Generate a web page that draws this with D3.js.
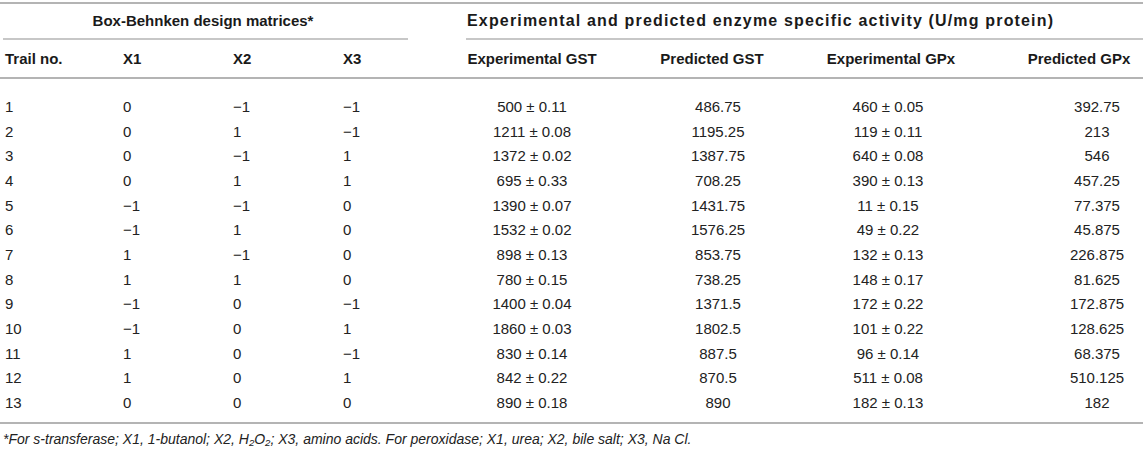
<!DOCTYPE html>
<html>
<head>
<meta charset="utf-8">
<script src="https://cdn.jsdelivr.net/npm/d3@7"></script>
<style>
  body { margin: 0; background: #fff; }
  svg { display: block; font-family: "Liberation Sans", Arial, sans-serif; }
  .rule { stroke: #b4b4b4; }
  .head { font-weight: bold; font-size: 15px; fill: #1a1a1a; }
  .cell { font-size: 15px; fill: #222; }
  .note { font-size: 14px; font-style: italic; fill: #222; }
</style>
</head>
<body>
<svg id="table"></svg>
<script>
// table values
var trial = [1, 2, 3, 4, 5, 6, 7, 8, 9, 10, 11, 12, 13];
var x1 = [0, 0, 0, 0, -1, -1, 1, 1, -1, -1, 1, 1, 0];
var x2 = [-1, 1, -1, 1, -1, 1, -1, 1, 0, 0, 0, 0, 0];
var x3 = [-1, -1, 1, 1, 0, 0, 0, 0, -1, 1, -1, 1, 0];
var expGST = [500, 1211, 1372, 695, 1390, 1532, 898, 780, 1400, 1860, 830, 842, 890];
var expGSTsd = [0.11, 0.08, 0.02, 0.33, 0.07, 0.02, 0.13, 0.15, 0.04, 0.03, 0.14, 0.22, 0.18];
var predGST = [486.75, 1195.25, 1387.75, 708.25, 1431.75, 1576.25, 853.75, 738.25, 1371.5, 1802.5, 887.5, 870.5, 890];
var expGPx = [460, 119, 640, 390, 11, 49, 132, 148, 172, 101, 96, 511, 182];
var expGPxsd = [0.05, 0.11, 0.08, 0.13, 0.15, 0.22, 0.13, 0.17, 0.22, 0.22, 0.14, 0.08, 0.13];
var predGPx = [392.75, 213, 546, 457.25, 77.375, 45.875, 226.875, 81.625, 172.875, 128.625, 68.375, 510.125, 182];

var groups = ["Box-Behnken design matrices*", "Experimental and predicted enzyme specific activity (U/mg protein)"];
var headers = ["Trail no.", "X1", "X2", "X3", "Experimental GST", "Predicted GST", "Experimental GPx", "Predicted GPx"];
var footnote = "*For s-transferase; X1, 1-butanol; X2, H₂O₂; X3, amino acids. For peroxidase; X1, urea; X2, bile salt; X3, Na Cl.";

var W = 1143, H = 452;
var svg = d3.select('#table').attr('width', W).attr('height', H);

// column anchors
var colX = d3.scaleOrdinal().domain(d3.range(8)).range([5, 123, 233, 343, 532, 718, 888, 1097]);
var headX = d3.scaleOrdinal().domain(d3.range(8)).range([5, 123, 233, 343, 532, 712, 891, 1079]);
var anchor = function(i) { return i < 4 ? 'start' : 'middle'; };
var rowY = d3.scaleLinear().domain([0, trial.length - 1]).range([107, 403]);

function num(v) { return String(v).replace('-', '\u2212'); }

var rows = trial.map(function(t, i) {
    return [num(t), num(x1[i]), num(x2[i]), num(x3[i]),
        expGST[i] + ' \u00b1 ' + expGSTsd[i], num(predGST[i]),
        expGPx[i] + ' \u00b1 ' + expGPxsd[i], num(predGPx[i])];
});

// rules
svg.append('line').attr('class', 'rule').attr('x1', 0).attr('x2', W)
    .attr('y1', 3).attr('y2', 3).attr('stroke-width', 2);
svg.append('line').attr('class', 'rule').attr('x1', 3).attr('x2', 408)
    .attr('y1', 39).attr('y2', 39).attr('stroke-width', 1.5);
svg.append('line').attr('class', 'rule').attr('x1', 466).attr('x2', W)
    .attr('y1', 39).attr('y2', 39).attr('stroke-width', 1.5);
svg.append('line').attr('class', 'rule').attr('x1', 0).attr('x2', W)
    .attr('y1', 78).attr('y2', 78).attr('stroke-width', 2);
svg.append('line').attr('class', 'rule').attr('x1', 0).attr('x2', W)
    .attr('y1', 423).attr('y2', 423).attr('stroke-width', 2);

// group titles
svg.append('text').attr('class', 'head')
    .attr('x', 203).attr('y', 26)
    .attr('text-anchor', 'middle')
    .text(groups[0]);
svg.append('text').attr('class', 'head')
    .attr('x', 467).attr('y', 26)
    .style('font-size', '16px')
    .attr('textLength', 586).attr('lengthAdjust', 'spacing')
    .text(groups[1]);

// column headers
svg.selectAll('.colhead').data(headers).enter().append('text')
    .attr('class', 'head')
    .attr('x', function(d, i) { return headX(i); })
    .attr('y', 64)
    .attr('text-anchor', function(d, i) { return anchor(i); })
    .text(function(d) { return d; });

// body
var r = svg.selectAll('.row').data(rows).enter().append('g')
    .attr('transform', function(d, i) { return 'translate(0,' + (rowY(i) + 5) + ')'; });
r.selectAll('text').data(function(d) { return d; }).enter().append('text')
    .attr('class', 'cell')
    .attr('x', function(d, i) { return colX(i); })
    .attr('text-anchor', function(d, i) { return anchor(i); })
    .text(function(d) { return d; });

svg.append('text').attr('class', 'note')
    .attr('x', 3).attr('y', 444)
    .text(footnote);
</script>
</body>
</html>
